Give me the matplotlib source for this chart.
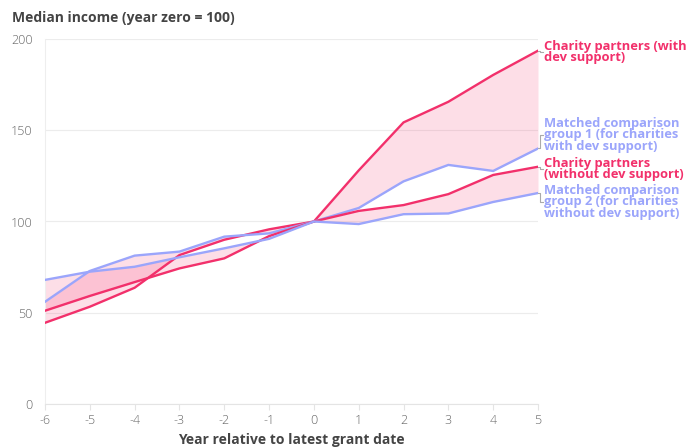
import matplotlib
matplotlib.use("Agg")
import matplotlib.pyplot as plt
from matplotlib.transforms import blended_transform_factory

plt.rcParams['font.family'] = ['Open Sans', 'DejaVu Sans']

years = [-6, -5, -4, -3, -2, -1, 0, 1, 2, 3, 4, 5]

partners_dev = [44.5, 53.3, 63.7, 81.6, 90.0, 95.7, 100, 128.0, 154.3, 165.6, 180.3, 193.6]
comparison_1 = [56.0, 72.9, 81.3, 83.5, 91.7, 93.5, 100, 107.4, 122.0, 131.0, 127.7, 140.0]
partners_nodev = [51.1, 59.2, 66.8, 74.3, 79.8, 92.0, 100, 105.8, 109.0, 115.0, 125.5, 130.0]
comparison_2 = [68.0, 72.5, 75.2, 80.4, 85.3, 90.5, 100, 98.6, 104.0, 104.4, 110.7, 115.6]

labels = [
    "Charity partners (with\ndev support)",
    "Matched comparison\ngroup 1 (for charities\nwith dev support)",
    "Charity partners\n(without dev support)",
    "Matched comparison\ngroup 2 (for charities\nwithout dev support)",
]
label_y = [193.0, 147.4, 128.8, 110.7]

PINK = "#f2306b"
BLUE = "#9ba5fb"
FILL = "#f7356e"

fig = plt.figure(figsize=(6.99, 4.48), dpi=100)
ax = fig.add_axes([45 / 699, 44 / 448, (538 - 45) / 699, (404 - 39) / 448])

ax.fill_between(years, partners_dev, comparison_1, color=FILL, alpha=0.16, lw=0)
ax.fill_between(years, partners_nodev, comparison_2, color=FILL, alpha=0.16, lw=0)

series = [(partners_dev, PINK), (comparison_1, BLUE),
          (partners_nodev, PINK), (comparison_2, BLUE)]
for vals, col in series:
    ax.plot(years, vals, color=col, lw=1.7, solid_joinstyle="miter", zorder=3)

ax.set_xlim(-6, 5)
ax.set_ylim(0, 200)
ax.set_xticks(years)
ax.set_xticklabels([str(y) for y in years])
ax.set_yticks([0, 50, 100, 150, 200])
ax.grid(axis="y", color="#ececec", lw=0.8)
ax.set_axisbelow(True)
for s in ["top", "right"]:
    ax.spines[s].set_visible(False)
ax.spines["left"].set_color("#eeeeee")
ax.spines["bottom"].set_color("#e4e4e4")
ax.tick_params(axis="y", length=0, pad=9, labelsize=9, labelcolor="#666666")
ax.tick_params(axis="x", length=4, color="#e4e4e4", pad=3, labelsize=9, labelcolor="#666666")
for t in ax.get_xticklabels() + ax.get_yticklabels():
    t.set_fontweight("light")

fig.text(291 / 699, 1 - 440 / 448, "Year relative to latest grant date", fontsize=10,
         fontweight="bold", color="#444444", va="center", ha="center")
fig.text(12 / 699, 1 - 18 / 448, "Median income (year zero = 100)", fontsize=10,
         fontweight="bold", color="#444444", va="center", ha="left")

# end-of-line labels with small bracket connectors
colors = [PINK, BLUE, PINK, BLUE]
ends = [partners_dev[-1], comparison_1[-1], partners_nodev[-1], comparison_2[-1]]
trans = blended_transform_factory(ax.transAxes, ax.transData)
x0 = 1 + 2 / 493
x1 = 1 + 5 / 493
for text, ly, col, ev in zip(labels, label_y, colors, ends):
    ax.plot([1.0, x0, x0, x1], [ev, ev, ly, ly], transform=trans, color="#aaaaaa",
            lw=0.8, clip_on=False)
    ax.text(1 + 6 / 493, ly, text, transform=trans, color=col, fontsize=9.3,
            fontweight="bold", va="center", ha="left", linespacing=0.82)

fig.savefig("out.png", dpi=100)
